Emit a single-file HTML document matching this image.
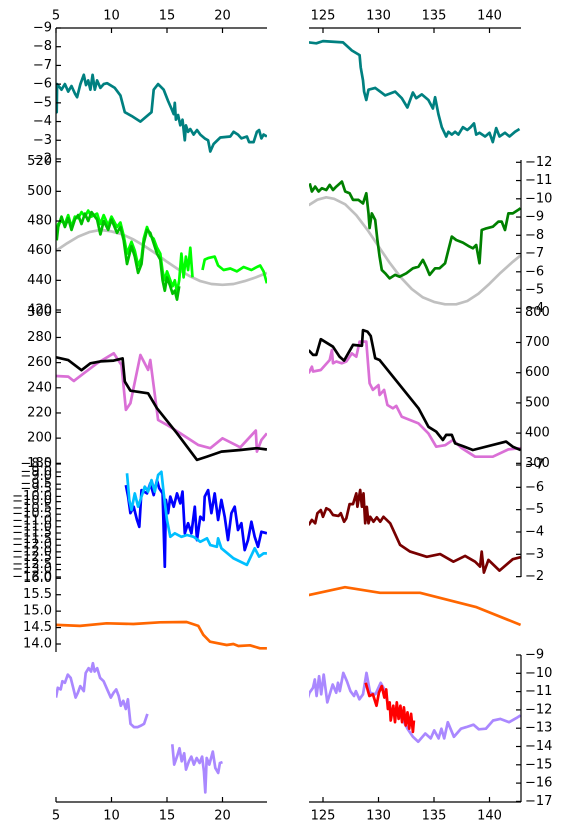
<!DOCTYPE html>
<html><head><meta charset="utf-8">
<style>
html,body{margin:0;padding:0;background:#fff;}
svg{display:block;font-family:"DejaVu Sans","Liberation Sans",sans-serif;font-size:13px;}
</style></head>
<body>
<svg id="chart" width="563" height="834" viewBox="0 0 563 834" xmlns="http://www.w3.org/2000/svg">
<defs>
<clipPath id="clipL"><rect x="56" y="28" width="211" height="774"/></clipPath>
<clipPath id="clipR"><rect x="309" y="28" width="212" height="774"/></clipPath>
</defs>
<g id="marks"></g>
<g id="axes"></g>
</svg>
<script>
// ---- data ----
const tealLT=[5.0,5.06,5.1,5.5,5.8,6.1,6.4,6.7,6.9,7.2,7.5,7.7,7.9,8.1,8.3,8.5,8.7,9.0,9.3,9.6,10.3,10.8,11.2,11.8,12.6,13.6,13.8,14.2,14.7,15.1,15.4,15.6,15.7,15.8,16.0,16.2,16.4,16.6,16.7,16.9,17.1,17.4,17.7,18.0,18.4,18.7,18.9,19.2,19.8,20.7,21.0,21.4,21.7,22.2,22.4,22.8,23.1,23.3,23.5,23.7,24.0];
const tealLV=[-4.6,-4.5,-6.0,-5.7,-6.0,-5.6,-5.9,-5.5,-5.3,-6.0,-6.5,-5.95,-6.2,-5.7,-6.5,-5.7,-6.2,-5.8,-6.0,-6.05,-5.8,-5.4,-4.5,-4.3,-4.0,-4.5,-5.7,-6.0,-5.7,-5.1,-4.7,-4.4,-5.0,-4.1,-4.35,-3.8,-4.1,-3.0,-3.8,-3.45,-3.6,-3.3,-3.55,-3.3,-3.1,-3.0,-2.4,-2.8,-3.15,-3.2,-3.45,-3.3,-3.1,-3.2,-2.9,-2.9,-3.45,-3.55,-3.1,-3.3,-3.2];
const tealRT=[123.7,124.4,125.0,126.8,127.6,128.3,128.4,128.6,128.7,128.9,129.1,129.7,130.6,131.5,132.1,132.6,133.1,133.4,133.9,134.5,134.9,135.1,135.4,135.7,136.1,136.3,136.6,136.9,137.2,137.6,138.0,138.3,138.6,138.8,139.1,139.6,140.0,140.3,140.6,140.9,141.4,141.8,142.3,142.7];
const tealRV=[-8.23,-8.18,-8.3,-8.23,-7.8,-7.55,-6.9,-6.2,-5.6,-5.15,-5.7,-5.8,-5.4,-5.6,-5.25,-4.75,-5.55,-5.25,-5.45,-5.15,-4.7,-5.3,-4.4,-3.7,-3.2,-3.45,-3.3,-3.45,-3.3,-3.7,-3.55,-3.7,-3.9,-3.3,-3.4,-3.2,-3.4,-2.9,-3.65,-3.2,-3.4,-3.2,-3.45,-3.6];
const grayLT=[5,6,7,8,9,10,11,12,13,14,15,16,17,18,19,20,21,22,23,24];
const grayLV=[460,465,469.5,472.5,474,473,471,467.5,463,458,452.5,447.5,443,439.5,437.5,437,437.5,439.5,442,445];
const grayRT=[123.7,124.5,125.3,126,127,128,129,130,131,132,133,134,135,136,137,138,139,140,141,142,142.8];
const grayRV=[-9.65,-9.95,-10.08,-10.0,-9.7,-9.1,-8.3,-7.4,-6.5,-5.7,-5.05,-4.6,-4.35,-4.22,-4.22,-4.4,-4.8,-5.35,-5.95,-6.5,-6.9];
const limeT=[5.0,5.2,5.5,5.8,6.1,6.4,6.7,7.0,7.3,7.6,7.9,8.2,8.7,9.0,9.3,9.7,10.0,10.5,10.8,11.1,11.4,11.8,12.1,12.4,12.7,12.9,13.2,13.5,13.8,14.1,14.4,14.6,14.8,15.0,15.3,15.5,15.7,15.9,16.1,16.3,16.5,16.7,16.9,17.1,17.3,17.8,18.2,18.4,18.7,19.3,19.6,20.1,20.7,21.3,21.9,22.6,23.1,23.4,23.7,24.0];
const limeV=[470,478,480,478,484,476,483,482,486,483,487,483,485,478,484,477,483,476,479,470,458,466,460,450,455,468,476,470,468,462,458,446,440,446,440,436,440,432,440,458,442,456,447,462,442,null,447,454,455,456,450,447,448,446,449,447,449,450,446,438];
const greenLT=[5.06,5.2,5.5,5.8,6.1,6.4,6.7,7.0,7.3,7.6,7.9,8.2,8.7,9.0,9.3,9.7,10.0,10.5,10.8,11.1,11.4,11.8,12.1,12.4,12.7,12.9,13.2,13.5,13.8,14.1,14.4,14.6,14.8,15.0,15.3,15.5,15.7,15.9,16.1];
const greenLV=[467,476,483,476,482,474,481,484,478,485,480,486,481,471,480,474,481,472,476,467,451,463,456,445,451,465,474,472,465,458,454,440,433,442,436,431,433,427,436];
const greenRT=[123.8,124.0,124.3,124.6,124.9,125.3,125.6,125.9,126.2,126.7,127.0,127.4,127.7,128.2,128.6,128.9,129.1,129.2,129.4,129.7,129.9,130.1,130.3,130.6,131.0,131.5,131.9,132.5,133.1,133.6,134.0,134.3,134.6,135.1,135.5,136.0,136.3,136.6,137.0,137.6,138.2,138.5,138.8,139.1,139.3,139.7,140.3,140.8,141.1,141.4,141.7,142.1,142.6,142.8];
const greenRV=[-10.85,-10.4,-10.67,-10.4,-10.58,-10.48,-10.76,-10.48,-10.67,-10.94,-10.4,-10.3,-9.94,-9.94,-9.75,-10.3,-9.2,-8.4,-9.2,-8.84,-7.74,-6.83,-6.1,-5.92,-5.64,-5.83,-5.73,-5.92,-6.19,-6.28,-6.65,-6.28,-5.83,-6.19,-6.19,-6.47,-7.2,-7.93,-7.74,-7.6,-7.38,-7.29,-7.47,-6.47,-8.29,-8.38,-8.47,-8.75,-8.75,-8.29,-9.2,-9.2,-9.4,-9.48];
const blackLT=[5,6.1,7.3,8.1,9,10.2,11.0,11.2,11.7,13.3,14.1,15.9,17.7,18.6,19.9,21.6,23.1,24];
const blackLV=[264.2,262,254,259.5,261,261.6,263.4,245,237.7,235.6,223.7,203.8,182.7,185.3,189.3,190.6,192,191];
const orchidLT=[5,6.1,6.6,7.5,8.7,10.2,10.9,11.3,11.7,12.6,13.3,13.5,14.2,15.0,16.2,17.8,18.9,20.0,21.6,23.0,23.1,23.5,24];
const orchidLV=[249.4,248.9,245.4,251.5,259.5,267.4,258.1,222.4,227.7,266.1,254.2,262.1,214.4,210.5,203.8,194.6,192,199.9,192.7,206,189.3,198.5,203.8];
const blackRT=[123.7,124.1,124.4,124.8,125.9,126.5,126.9,127.7,128.5,128.6,129.0,129.3,129.7,130.1,133.6,134.5,135.2,135.8,136.1,136.6,136.9,137.6,138.5,141.5,142.1,142.8];
const blackRV=[675,659,659,711,686,653,640,692,689,741,736,722,648,642,482,421,405,377,394,394,366,357,344,372,355,344];
const orchidRT=[123.7,124.0,124.1,124.8,125.6,125.8,125.9,126.2,126.7,127.1,127.6,128.0,128.3,128.9,129.2,129.5,130.0,130.1,130.5,130.8,131.3,131.6,132.1,133.6,134.5,135.2,136.0,136.7,137.5,138.7,140.3,141.7,142.8];
const orchidRV=[598,620,604,609,642,675,631,637,631,637,664,653,703,703,565,543,559,526,543,493,482,490,454,432,399,355,360,377,350,322,322,346,350];
const blueT=[11.3,11.5,11.7,12.0,12.3,12.5,12.7,13.2,13.5,13.8,14.1,14.3,14.6,14.8,14.9,15.1,15.3,15.6,15.9,16.2,16.4,16.6,16.9,17.2,17.5,17.7,18.0,18.3,18.4,18.7,19.0,19.3,19.6,19.9,20.2,20.5,20.8,21.1,21.4,21.7,22.0,22.3,22.6,22.9,23.2,23.5,24.0];
const blueV=[-9.34,-9.8,-10.46,-10.2,-10.73,-11.0,-9.54,-9.67,-9.27,-9.74,-9.14,-9.47,-9.67,-12.59,-9.93,-10.46,-9.8,-10.2,-9.67,-10.07,-9.6,-11.26,-10.86,-11.26,-10.2,-11.53,-10.6,-10.73,-9.8,-9.54,-10.46,-9.67,-10.73,-9.93,-10.6,-11.53,-10.46,-10.2,-11.13,-10.86,-11.93,-11.53,-10.8,-11.4,-11.8,-11.2,-11.26];
const cyanT=[11.4,11.6,11.8,12.1,12.4,12.7,13.0,13.3,13.6,13.9,14.2,14.5,14.7,15.0,15.3,15.7,16.3,16.8,17.4,18.0,18.6,18.9,19.5,19.6,19.9,21.0,22.2,22.9,23.3,23.7,24.0];
const cyanV=[-8.87,-9.93,-10.33,-9.67,-10.2,-9.8,-9.4,-9.6,-9.14,-9.6,-8.94,-8.81,-9.67,-10.73,-11.4,-11.26,-11.4,-11.33,-11.4,-11.6,-11.46,-11.73,-11.8,-11.46,-11.86,-12.26,-12.52,-11.86,-12.19,-12.06,-12.06];
const maroonT=[123.7,124.0,124.3,124.5,124.8,125.0,125.3,125.6,125.9,126.4,126.6,126.9,127.1,127.4,127.7,128.0,128.1,128.35,128.5,128.65,128.8,128.95,129.1,129.25,129.55,129.85,130.15,130.45,131.05,131.95,132.85,134.35,135.55,136.75,137.8,138.7,139.15,139.3,139.5,139.9,140.9,142.1,142.8];
const maroonV=[-4.31,-4.54,-4.39,-4.84,-4.98,-4.68,-5.06,-4.98,-4.76,-4.72,-4.84,-4.46,-4.61,-5.25,-5.25,-5.73,-5.13,-5.88,-5.13,-5.73,-4.39,-5.13,-4.39,-4.68,-4.46,-4.66,-4.46,-4.68,-4.39,-3.42,-3.12,-2.89,-3.01,-2.67,-2.93,-2.67,-2.45,-3.12,-2.18,-2.75,-2.27,-2.78,-2.87];
const orangeLT=[5,7.16,9.56,11.97,14.37,16.77,17.82,18.27,18.87,20.38,20.98,21.43,22.48,23.38,24.0];
const orangeLV=[14.58,14.55,14.63,14.61,14.66,14.67,14.55,14.28,14.07,13.97,14.0,13.94,13.96,13.87,13.87];
const orangeRT=[123.7,126.98,130.14,133.74,138.84,142.8];
const orangeRV=[15.49,15.73,15.56,15.56,15.12,14.58];
const purpleLT=[5.0,5.16,5.42,5.58,5.8,6.06,6.32,6.55,6.77,6.97,7.19,7.5,7.68,7.94,8.16,8.32,8.48,8.71,8.97,9.29,9.61,9.94,10.19,10.42,10.65,10.84,11.06,11.29,11.48,11.71,12.03,12.35,12.68,12.94,13.23,14.3,15.48,15.65,15.9,16.13,16.32,16.55,16.71,16.97,17.19,17.42,17.68,17.94,18.16,18.32,18.45,18.58,18.81,19.13,19.35,19.61,19.77,20.0];
const purpleLV=[-11.33,-10.79,-10.88,-10.43,-10.52,-10.07,-10.25,-10.79,-11.33,-11.06,-10.7,-10.97,-9.98,-9.72,-9.9,-9.45,-9.9,-9.72,-10.25,-10.43,-10.88,-11.33,-11.06,-10.88,-11.24,-11.77,-11.5,-11.95,-11.42,-12.76,-12.94,-12.94,-12.85,-12.76,-12.22,null,-13.88,-14.99,-14.55,-14.1,-14.81,-14.37,-15.26,-14.81,-14.55,-14.99,-14.63,-14.9,-14.55,-15.35,-16.51,-14.63,-14.99,-14.28,-15.17,-15.44,-14.9,-14.85];
const purpleRT=[123.5,123.78,124.1,124.26,124.42,124.65,124.84,125.06,125.39,125.87,126.19,126.35,126.51,126.83,127.15,127.47,127.79,127.96,128.28,128.6,128.92,129.24,129.72,130.2,130.53,130.85,131.17,131.65,132.13,132.61,133.1,133.58,134.22,134.7,135.02,135.41,135.67,135.92,136.24,136.79,137.43,137.91,138.56,139.04,139.68,140.32,140.96,141.77,142.41,142.8];
const purpleRV=[-11.59,-11.06,-10.79,-10.34,-11.24,-10.16,-11.15,-10.07,-11.59,-10.61,-11.06,-10.52,-10.97,-9.98,-10.43,-10.97,-11.24,-10.97,-11.42,-11.15,-9.98,-11.06,-11.15,-10.52,-10.88,-11.68,-12.04,-12.22,-12.49,-13.03,-13.47,-13.74,-13.29,-13.56,-13.12,-13.56,-13.03,-13.56,-12.67,-13.47,-13.03,-12.94,-12.81,-13.06,-13.03,-12.58,-12.49,-12.67,-12.45,-12.3];
const redT=[128.85,129.18,129.5,129.82,130.04,130.3,130.53,130.69,130.85,131.01,131.1,131.33,131.49,131.65,131.81,131.97,132.13,132.29,132.45,132.61,132.77,132.94,133.1,133.19];
const redV=[-10.52,-11.24,-11.15,-11.77,-11.06,-10.7,-11.33,-10.88,-11.95,-11.59,-12.58,-11.77,-12.67,-11.59,-12.49,-11.77,-12.67,-11.86,-12.85,-12.13,-13.03,-12.22,-13.2,-12.58];
// tick labels
const xTicksL=[5,10,15,20];
const xTicksR=[125,130,135,140];
const p1Ticks=[-9,-8,-7,-6,-5,-4,-3,-2];
const p2LTicks=[520,500,480,460,440,420];
const p2RTicks=[-12,-11,-10,-9,-8,-7,-6,-5,-4];
const p3LTicks=[300,280,260,240,220,200,180];
const p3RTicks=[800,700,600,500,400,300];
const p4LTicksA=[-8.5,-9.0,-9.5,-10.0,-10.5,-11.0,-11.5,-12.0,-12.5,-13.0];
const p4LTicksB=[-9.0,-9.5,-10.0,-10.5,-11.0,-11.5,-12.0,-12.5,-13.0];
const p4RTicks=[-7,-6,-5,-4,-3,-2];
const p5Ticks=[16.0,15.5,15.0,14.5,14.0];
const p6RTicks=[-9,-10,-11,-12,-13,-14,-15,-16,-17];

// ---- scales ----
const xL=t=>56+(t-5)*11.1;
const xR=t=>323+(t-125)*11.1;
const y1=v=>28+(v+9)*18.71;
const y2L=v=>161.7+(520-v)*1.483;
const y2R=v=>162.3+(v+12)*18.25;
const y3L=v=>312.3+(300-v)*1.2583;
const y3R=v=>312.3+(800-v)*0.302;
const y4L=v=>464+(-8.5-v)*25.1;
const y4LB=v=>472+(-9.0-v)*24.4;
const y4R=v=>465+(v+7)*22.33;
const y5=v=>578.3+(16-v)*32.85;
const y6=v=>655+(-9-v)*18.3;

const NS='http://www.w3.org/2000/svg';
const marks=document.getElementById('marks');
const axes=document.getElementById('axes');
const gL=document.createElementNS(NS,'g');gL.setAttribute('clip-path','url(#clipL)');


marks.appendChild(gL);
const gR=document.createElementNS(NS,'g');gR.setAttribute('clip-path','url(#clipR)');


marks.appendChild(gR);

function series(parent,ts,vs,xs,ys,color,name,w){
  let d='';let pen=false;
  for(let i=0;i<ts.length;i++){
    if(vs[i]===null){pen=false;continue;}
    d+=(pen?'L':'M')+xs(ts[i]).toFixed(1)+' '+ys(vs[i]).toFixed(1);pen=true;
  }
  const p=document.createElementNS(NS,'path');
  p.setAttribute('d',d);p.setAttribute('fill','none');p.setAttribute('stroke',color);
  p.setAttribute('stroke-width',w||2.7);p.setAttribute('stroke-linejoin','round');
  
  
  parent.appendChild(p);
}
series(gL,tealLT,tealLV,xL,y1,'#008080','teal-line-left');
series(gR,tealRT,tealRV,xR,y1,'#008080','teal-line-right');
series(gL,grayLT,grayLV,xL,y2L,'#c0c0c0','gray-sine-left');
series(gR,grayRT,grayRV,xR,y2R,'#c0c0c0','gray-sine-right');
series(gL,limeT,limeV,xL,y2L,'#00ff00','lime-line-left');
series(gL,greenLT,greenLV,xL,y2L,'#00c000','green-line-left');
series(gR,greenRT,greenRV,xR,y2R,'#008000','green-line-right');
series(gL,orchidLT,orchidLV,xL,y3L,'#da70d6','orchid-line-left');
series(gL,blackLT,blackLV,xL,y3L,'#000000','black-line-left');
series(gR,orchidRT,orchidRV,xR,y3R,'#da70d6','orchid-line-right');
series(gR,blackRT,blackRV,xR,y3R,'#000000','black-line-right');
series(gL,blueT,blueV,xL,y4L,'#0000ff','blue-line-left');
series(gL,cyanT,cyanV,xL,y4L,'#00bfff','cyan-line-left');
series(gR,maroonT,maroonV,xR,y4R,'#780000','maroon-line-right');
series(gL,orangeLT,orangeLV,xL,y5,'#ff6600','orange-line-left');
series(gR,orangeRT,orangeRV,xR,y5,'#ff6600','orange-line-right');
series(gL,purpleLT,purpleLV,xL,y6,'#aa88ff','purple-line-left');
series(gR,purpleRT,purpleRV,xR,y6,'#aa88ff','purple-line-right');
series(gR,redT,redV,xR,y6,'#ff0000','red-line-right');

function line(x1,y1_,x2,y2_,name){
  const l=document.createElementNS(NS,'line');
  l.setAttribute('x1',x1);l.setAttribute('y1',y1_);l.setAttribute('x2',x2);l.setAttribute('y2',y2_);
  l.setAttribute('stroke','#000');l.setAttribute('stroke-width',1.2);
  
  
  axes.appendChild(l);
}
function label(x,y,txt,anchor,name){
  const t=document.createElementNS(NS,'text');
  t.setAttribute('x',x);t.setAttribute('y',y);t.setAttribute('text-anchor',anchor);
  t.setAttribute('dominant-baseline','central');t.setAttribute('fill','#000');
  t.textContent=txt;
  
  
  axes.appendChild(t);
}
const fmt=(v,dec)=>(v<0?'\u2212':'')+Math.abs(v).toFixed(dec);

// spines
line(56,28,267,28,'top-spine-left');
line(309,28,521,28,'top-spine-right');
line(56,28,56,652,'left-spine');
line(521,160,521,577,'right-spine-upper');
line(521,655,521,802,'right-spine-lower');
line(56,802,267,802,'bottom-spine-left');
line(309,802,521,802,'bottom-spine-right');

// x ticks
xTicksL.forEach(t=>{const x=xL(t);line(x,28,x,33,'x-tick-top-left');line(x,802,x,797,'x-tick-bottom-left');
  label(x,16,String(t),'middle','x-tick-label-top-left');label(x,816,String(t),'middle','x-tick-label-bottom-left');});
xTicksR.forEach(t=>{const x=xR(t);line(x,28,x,33,'x-tick-top-right');line(x,802,x,797,'x-tick-bottom-right');
  label(x,16,String(t),'middle','x-tick-label-top-right');label(x,816,String(t),'middle','x-tick-label-bottom-right');});

function leftTicks(arr,ys,dec,name){arr.forEach(v=>{const y=ys(v);line(56,y,61,y,name+'-tick');label(52,y,fmt(v,dec),'end',name+'-label');});}
function rightTicks(arr,ys,dec,name){arr.forEach(v=>{const y=ys(v);line(521,y,516,y,name+'-tick');label(525,y,fmt(v,dec),'start',name+'-label');});}
leftTicks(p1Ticks,y1,0,'p1-y-left');
leftTicks(p2LTicks,y2L,0,'p2-y-left');
rightTicks(p2RTicks,y2R,0,'p2-y-right');
leftTicks(p3LTicks,y3L,0,'p3-y-left');
rightTicks(p3RTicks,y3R,0,'p3-y-right');
leftTicks(p4LTicksA,y4L,1,'p4-y-left-a');
leftTicks(p4LTicksB,y4LB,1,'p4-y-left-b');
rightTicks(p4RTicks,y4R,0,'p4-y-right');
leftTicks(p5Ticks,y5,1,'p5-y-left');
rightTicks(p6RTicks,y6,0,'p6-y-right');
</script>
</body></html>
